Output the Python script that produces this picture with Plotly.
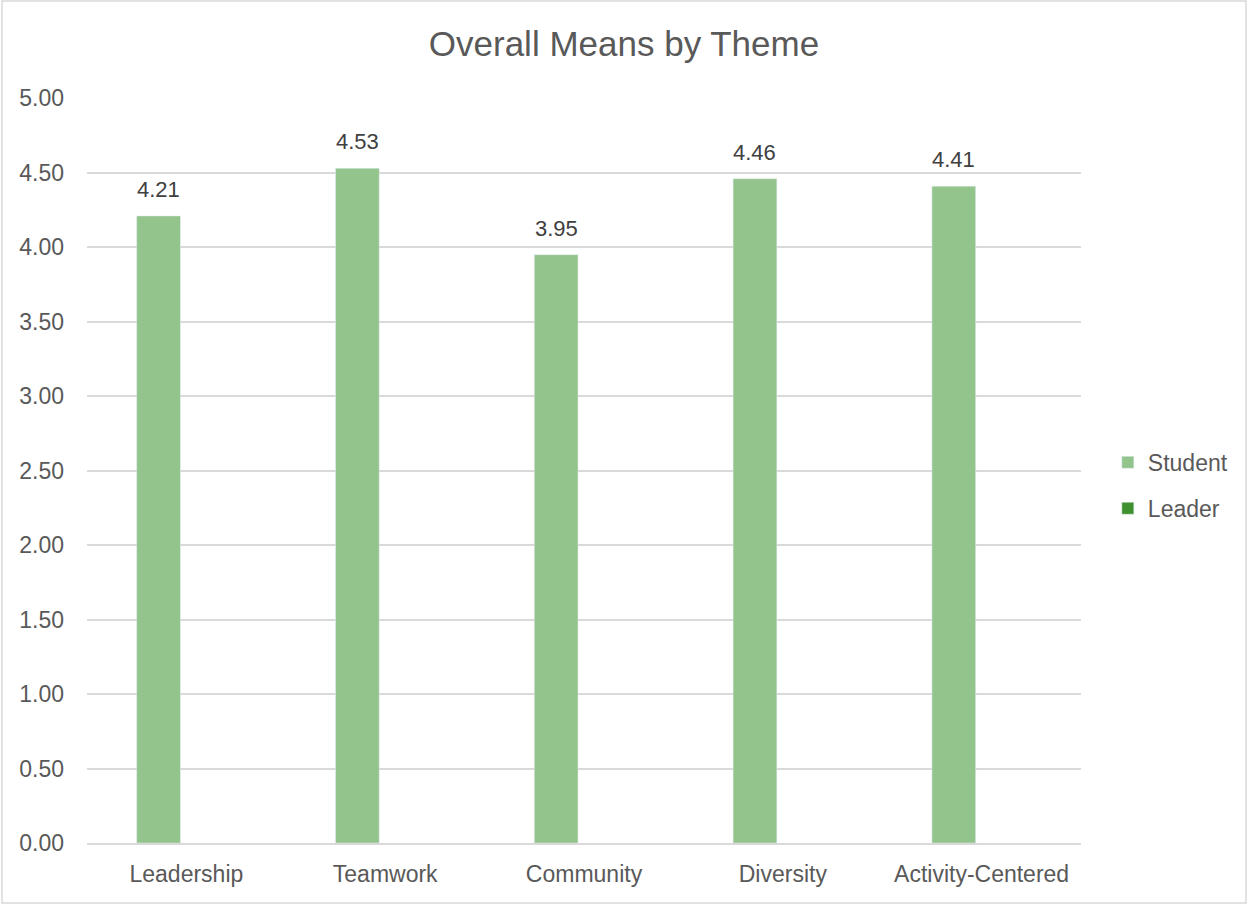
import plotly.graph_objects as go

# Theme categories and mean scores
themes = ["Leadership", "Teamwork", "Community", "Diversity", "Activity-Centered"]
student_means = [4.21, 4.53, 3.95, 4.46, 4.41]
leader_means = [None, None, None, None, None]
y_ticks = [0, 0.5, 1, 1.5, 2, 2.5, 3, 3.5, 4, 4.5, 5]

text_color = "#595959"
font_family = "Liberation Sans, Arial, sans-serif"

bar_width = 0.22
student_offset = -0.25

fig = go.Figure()
fig.add_trace(go.Bar(
    x=themes, y=student_means, name="Student",
    marker_color="#93C48B",
    width=bar_width, offset=student_offset,
    legendgroup="s",
))
fig.add_trace(go.Bar(
    x=themes, y=leader_means, name="Leader",
    marker_color="#3F9130",
    width=bar_width, offset=0.03,
    showlegend=True, legendgroup="l",
))

# value labels above each student bar
annotations = [
    dict(x=i + student_offset + bar_width / 2, y=v, xref="x", yref="y",
         text=f"{v:.2f}", showarrow=False, yanchor="bottom", yshift=12,
         font=dict(size=22, color="#404040"))
    for i, v in enumerate(student_means)
]

pw, ph = 994, 745
ml, mb = 87, 62

fig.update_layout(
    width=1248, height=905,
    margin=dict(l=ml, r=1248 - ml - pw, t=905 - mb - ph, b=mb),
    paper_bgcolor="white", plot_bgcolor="white",
    font=dict(family=font_family, color=text_color, size=23),
    title=dict(text="Overall Means by Theme", x=0.5, xanchor="center",
               y=1 - 44 / 905, yanchor="middle",
               font=dict(size=35, color=text_color)),
    barmode="overlay",
    showlegend=True,
    legend=dict(x=1.027, xanchor="left", y=0.48, yanchor="middle",
                traceorder="grouped", tracegroupgap=13,
                itemwidth=30,
                font=dict(size=23, color=text_color)),
    xaxis=dict(showgrid=False, showline=True, linecolor="#D9D9D9", linewidth=1.5,
               ticks="", ticklabelstandoff=10,
               tickfont=dict(size=23, color=text_color)),
    yaxis=dict(range=[0, 5.002], tickvals=y_ticks, tickformat=".2f",
               showgrid=True, gridcolor="#D9D9D9", gridwidth=1.5,
               zeroline=False, showline=False, ticks="",
               ticklabelstandoff=22,
               tickfont=dict(size=23, color=text_color)),
    annotations=annotations,
    shapes=[dict(type="rect", xref="paper", yref="paper",
                 x0=(2 - ml) / pw, x1=(1246 - ml) / pw,
                 y0=-(903 - (905 - mb)) / ph, y1=(905 - mb - 1) / ph,
                 line=dict(color="#D9D9D9", width=1.5), fillcolor="rgba(0,0,0,0)",
                 layer="below")],
)

fig.write_html("out.html")
